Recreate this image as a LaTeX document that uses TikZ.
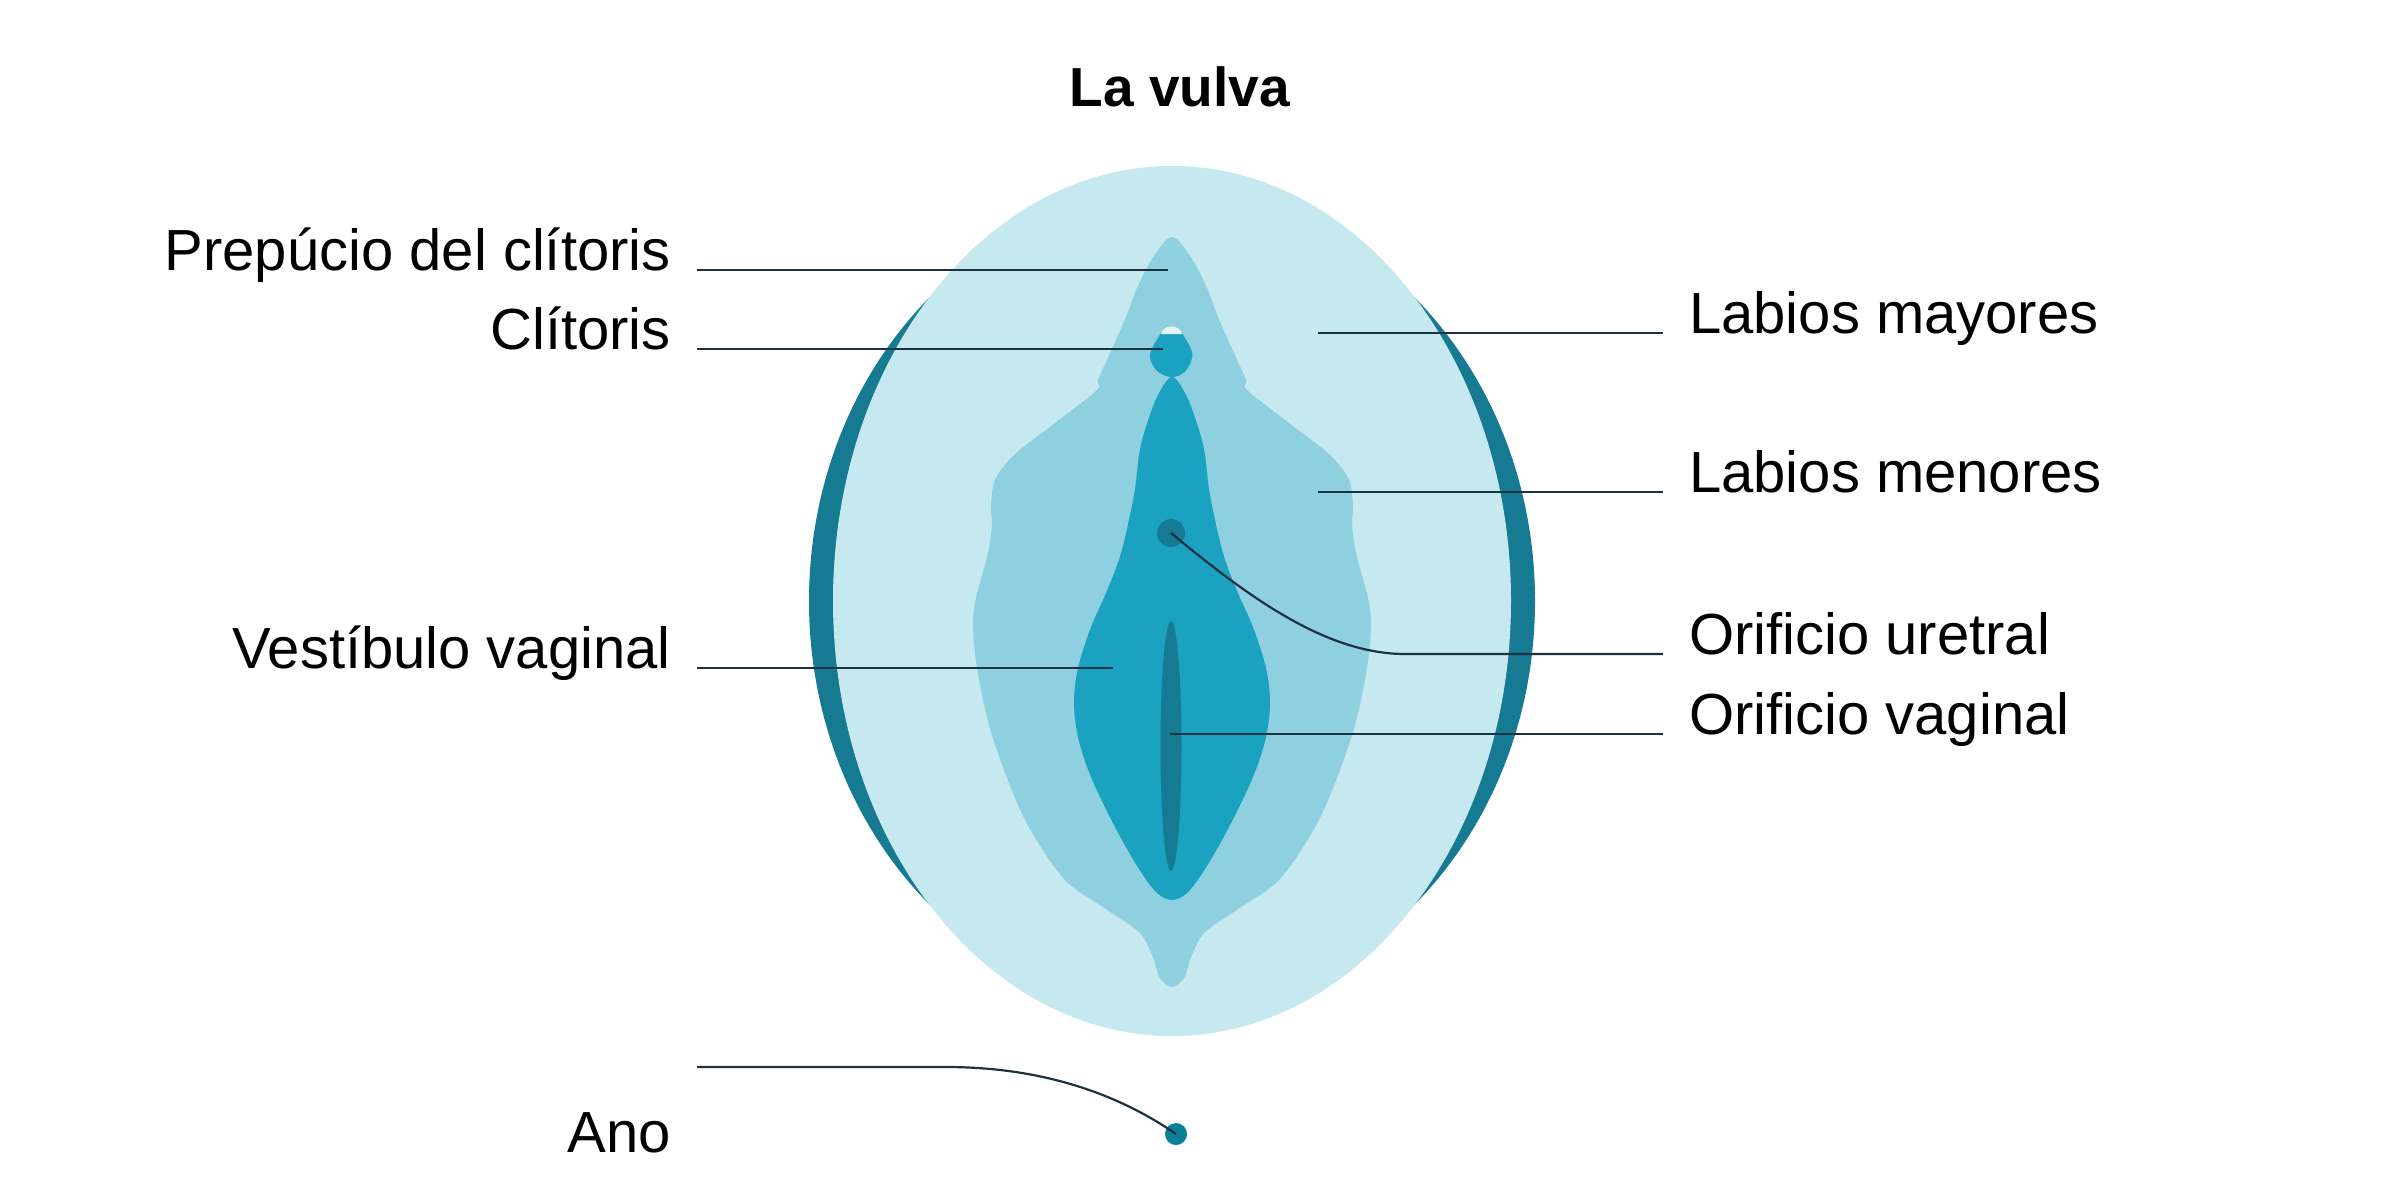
\documentclass[tikz,border=0pt]{standalone}
\usepackage{fontspec}
\setmainfont{Liberation Sans}
\definecolor{vulvalight}{RGB}{197,233,239}
\definecolor{vulvamid}{RGB}{142,208,224}
\definecolor{vulvateal}{RGB}{28,162,193}
\definecolor{vulvadark}{RGB}{21,122,146}
\definecolor{anoteal}{RGB}{8,128,152}
\definecolor{capwhite}{RGB}{228,244,247}
\definecolor{pointerline}{RGB}{28,50,64}
\usetikzlibrary{calc}
\tikzset{
  lbl/.style={font=\fontsize{58}{62}\selectfont, inner xsep=26pt, inner ysep=0pt},
  pointer/.style={draw=pointerline, line width=2.2pt},
}

\begin{document}
\begin{tikzpicture}[x=1pt, y=-1pt]
  \useasboundingbox (0,0) rectangle (2401,1200);

  % outer lips
  \fill[vulvadark] (1172,601) ellipse [x radius=363pt, y radius=408pt];
  \fill[vulvalight] (1172,601) ellipse [x radius=339pt, y radius=435pt];

  % inner lips and hood
  \fill[vulvamid] plot[smooth cycle, tension=0.55] coordinates {
    (1172,237) (1152,259) (1137,288) (1126,317) (1111,351) (1098,380) (1097,390)
    (1055,423) (1014,455) (995,480) (991,507) (992,524) (988,553) (976,598)
    (973,625) (977,668) (989,725) (1009,783) (1030,829) (1065,880) (1106,909)
    (1139,932) (1152,955) (1160,978) (1172,987)
    (1184,978) (1192,955) (1205,932) (1238,909) (1279,880) (1314,829) (1335,783)
    (1355,725) (1367,668) (1371,625) (1368,598) (1356,553) (1352,524) (1353,507)
    (1349,480) (1330,455) (1289,423) (1247,390) (1246,380) (1233,351) (1218,317)
    (1207,288) (1192,259)};

  % vestibule
  \fill[vulvateal] plot[smooth cycle, tension=0.55] coordinates {
    (1172,377) (1157,397) (1145,430) (1139,455) (1134,495) (1121,553) (1106,593)
    (1091,627) (1078,668) (1074,702) (1078,737) (1091,777) (1116,829) (1139,869)
    (1157,893) (1172,900)
    (1187,893) (1205,869) (1228,829) (1253,777) (1266,737) (1270,702) (1266,668)
    (1253,627) (1238,593) (1223,553) (1210,495) (1205,455) (1199,430) (1187,397)};

  % glans
  \fill[vulvateal] (1161,333) -- (1182,333) .. controls (1188,343) and (1194,351) .. (1192,358)
    .. controls (1189,372) and (1179,377) .. (1172,377)
    .. controls (1165,377) and (1153,372) .. (1150,358)
    .. controls (1149,351) and (1155,343) .. cycle;
  \fill[capwhite] (1161,334) .. controls (1163,324) and (1180,324) .. (1182,334) -- cycle;

  % openings
  \fill[vulvadark] (1171,746) ellipse [x radius=10.5pt, y radius=125pt];
  \node[circle, fill=vulvadark, minimum size=28pt, inner sep=0pt] (uretra) at (1171,533) {};
  \node[circle, fill=anoteal, minimum size=22pt, inner sep=0pt] (ano) at (1176,1134) {};

  \coordinate (p-prepucio) at (1168,270);
  \coordinate (p-clitoris) at (1163,349);
  \coordinate (p-vestibulo) at (1113,668);
  \coordinate (p-mayores) at (1318,333);
  \coordinate (p-menores) at (1318,492);
  \coordinate (p-vaginal) at (1170,734);
  \coordinate (k-uretral) at (1405,654);
  \coordinate (k-ano0) at (697,1067);
  \coordinate (k-ano) at (946,1067);

  \node[font=\bfseries\fontsize{55}{60}\selectfont, anchor=base] (title) at (1180,106) {La vulva};

  \node[lbl, anchor=base east] (prepucio) at (697,270) {Prepúcio del clítoris};
  \node[lbl, anchor=base east] (clitoris) at (697,349) {Clítoris};
  \node[lbl, anchor=base east] (vestibulo) at (697,668) {Vestíbulo vaginal};
  \node[lbl, anchor=base east] (ano-lbl) at (697,1152) {Ano};

  \node[lbl, anchor=base west] (mayores) at (1663,333) {Labios mayores};
  \node[lbl, anchor=base west] (menores) at (1663,492) {Labios menores};
  \node[lbl, anchor=base west] (uretral) at (1663,654) {Orificio uretral};
  \node[lbl, anchor=base west] (vaginal) at (1663,734) {Orificio vaginal};

  \draw[pointer] (prepucio.base east) -- (p-prepucio);
  \draw[pointer] (clitoris.base east) -- (p-clitoris);
  \draw[pointer] (vestibulo.base east) -- (p-vestibulo);
  \draw[pointer] (mayores.base west) -- (p-mayores);
  \draw[pointer] (menores.base west) -- (p-menores);
  \draw[pointer] (vaginal.base west) -- (p-vaginal);
  \draw[pointer] (uretral.base west) -- (k-uretral)
    .. controls +(-80,0) and +(75,62) .. (uretra.center);
  \draw[pointer] (k-ano0) -- (k-ano)
    .. controls +(100,0) and +(-55,-38) .. (ano.center);
\end{tikzpicture}
\end{document}
